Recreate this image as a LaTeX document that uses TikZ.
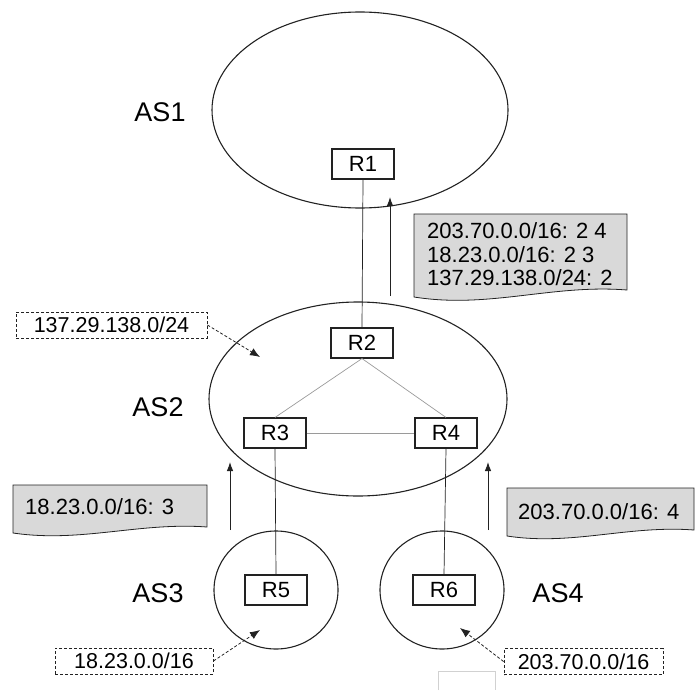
\documentclass[tikz,border=0pt]{standalone}
\usepackage{fontspec}
\setmainfont{Liberation Sans}
\usetikzlibrary{shapes.geometric,arrows.meta}
\definecolor{notegray}{HTML}{D9D9D9}
\definecolor{linedark}{HTML}{222222}
\definecolor{meshgray}{HTML}{9A9A9A}
\begin{document}
\begin{tikzpicture}[x=1pt,y=-1pt,
  asnode/.style={ellipse, draw=linedark, line width=1.1pt, inner sep=0pt, outer sep=0pt},
  routerbox/.style={draw=linedark, line width=1.1pt, minimum width=62pt, minimum height=30pt, inner sep=0pt, font=\fontsize{22}{24}\selectfont},
  aslabel/.style={font=\fontsize{27}{30}\selectfont, inner sep=0pt},
  linkline/.style={draw=linedark, line width=0.7pt},
  meshline/.style={draw=meshgray, line width=0.7pt},
  notebox/.style={fill=notegray, draw=linedark, line width=0.8pt},
  notetext/.style={font=\fontsize{22}{23.5}\selectfont, inner sep=0pt, anchor=west, align=left},
  pfxbox/.style={draw=linedark, dashed, dash pattern=on 3pt off 2pt, line width=0.9pt, minimum height=26pt, inner sep=0pt, font=\fontsize{21.5}{24}\selectfont},
  advertarrow/.style={draw=linedark, line width=0.9pt, -{Latex[length=9pt,width=6.5pt]}},
  orgarrow/.style={draw=linedark, dashed, dash pattern=on 3pt off 2pt, line width=0.8pt, -{Latex[length=10pt,width=8pt]}}
]
\useasboundingbox (0,0) rectangle (695,690);

% AS clouds
\node[asnode, minimum width=296pt, minimum height=196pt] (as1) at (360,110) {};
\node[asnode, minimum width=298pt, minimum height=194pt] (as2) at (358,399) {};
\node[asnode, minimum width=124pt, minimum height=118pt] (as3) at (276,590) {};
\node[asnode, minimum width=124pt, minimum height=118pt] (as4) at (442,590) {};

\node[aslabel] (l1) at (160,112) {AS1};
\node[aslabel] (l2) at (158,407) {AS2};
\node[aslabel] (l3) at (158,593) {AS3};
\node[aslabel] (l4) at (558,593) {AS4};

% routers
\node[routerbox] (r1) at (363,164) {R1};
\node[routerbox] (r2) at (362,343) {R2};
\node[routerbox] (r3) at (275,433) {R3};
\node[routerbox] (r4) at (446,433) {R4};
\node[routerbox] (r5) at (276,590) {R5};
\node[routerbox] (r6) at (444,590) {R6};

% links
\draw[linkline] (r1.south) -- (r2.north);
\draw[linkline] (r3.south) -- (r5.north);
\draw[linkline] (r4.south) -- (r6.north);
\draw[meshline] (r2.south) -- (r3.north);
\draw[meshline] (r2.south) -- (r4.north);
\draw[meshline] (r3.east) -- (r4.west);

% note boxes
\draw[notebox] (414,214) -- (627,214) -- (627,290) .. controls (552,284) and (489,309) .. (414,297) -- cycle;
\node[notetext] (n1) at (427,254.5) {203.70.0.0/16: 2 4\\18.23.0.0/16: 2 3\\137.29.138.0/24: 2};

\draw[notebox] (13,485) -- (207,485) -- (207,527) .. controls (139,522) and (81,543) .. (13,533) -- cycle;
\node[notetext] (n2) at (25,507) {18.23.0.0/16: 3};

\draw[notebox] (507,488) -- (694,488) -- (694,530) .. controls (628,525) and (572,546) .. (507,536) -- cycle;
\node[notetext] (n3) at (518,512) {203.70.0.0/16: 4};

% advertisement arrows
\coordinate (a1s) at (390,296);
\coordinate (a1e) at (390,197);
\coordinate (a2s) at (230,530);
\coordinate (a2e) at (230,462);
\coordinate (a3s) at (488,530);
\coordinate (a3e) at (488,462);
\draw[advertarrow] (a1s) -- (a1e);
\draw[advertarrow] (a2s) -- (a2e);
\draw[advertarrow] (a3s) -- (a3e);

% originated prefixes
\node[pfxbox, minimum width=191pt] (p1) at (111.5,325) {137.29.138.0/24};
\node[pfxbox, minimum width=158pt] (p3) at (134,661) {18.23.0.0/16};
\node[pfxbox, minimum width=159pt] (p4) at (583.5,661.5) {203.70.0.0/16};
\coordinate (t1) at (260,357);
\coordinate (t3) at (260,630);
\coordinate (t4) at (460,628);
\draw[orgarrow] (p1.east) -- (t1);
\draw[orgarrow] (p3.east) -- (t3);
\draw[orgarrow] (p4.west) -- (t4);

% faint stray frame at the bottom
\draw[draw=black!18, line width=0.6pt] (438,690) -- (438,671) -- (495,671) -- (495,690);
\end{tikzpicture}
\end{document}
